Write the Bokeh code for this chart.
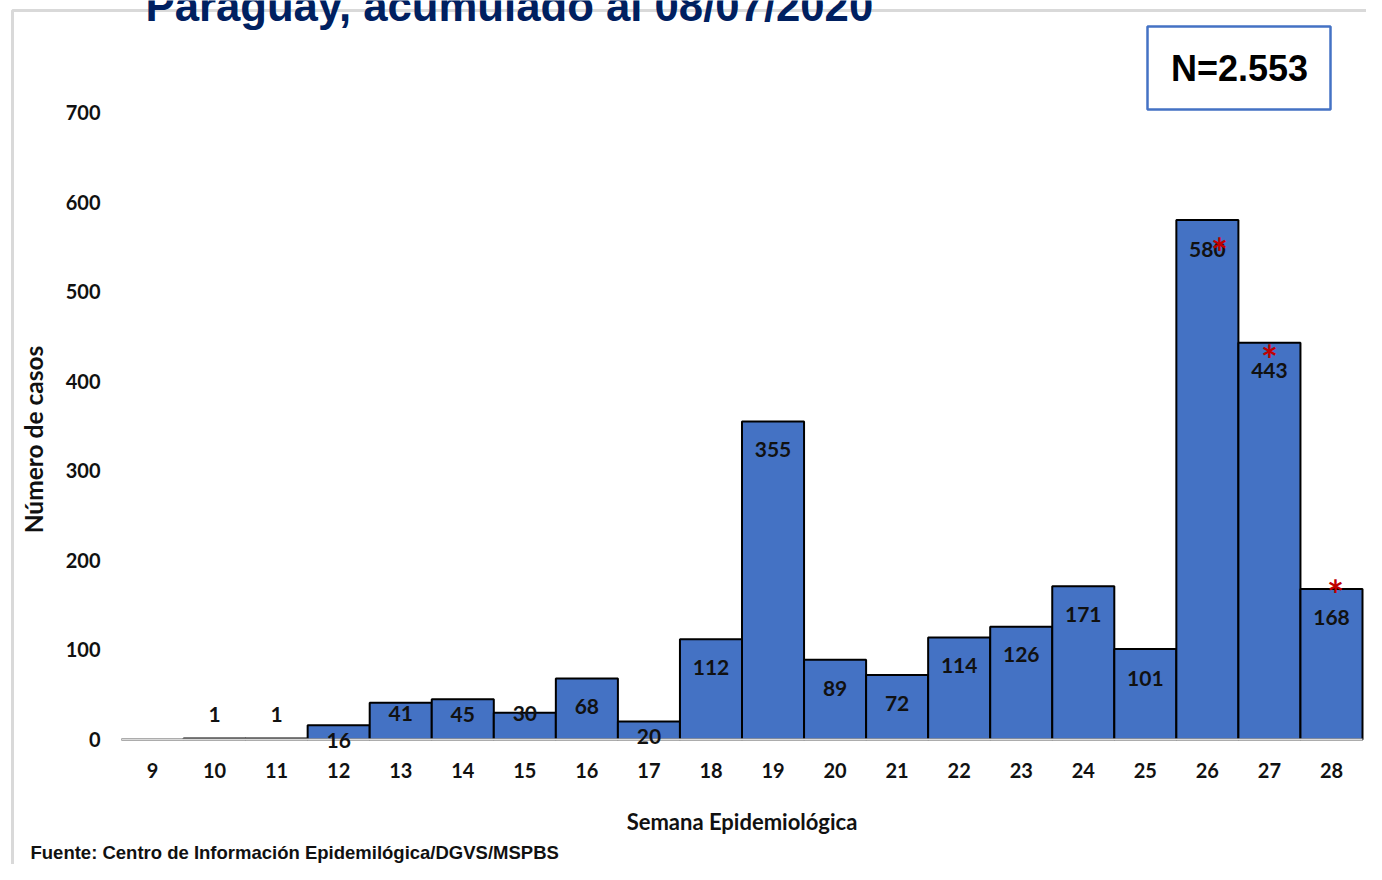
from bokeh.plotting import figure
from bokeh.models import ColumnDataSource, LabelSet, Label, BoxAnnotation, FixedTicker, Range1d
from bokeh.embed import file_html
from bokeh.resources import INLINE
from bokeh.core.properties import value

# ---------------- data ----------------
weeks = list(range(9, 29))
cases = [0, 1, 1, 16, 41, 45, 30, 68, 20, 112, 355, 89, 72, 114, 126, 171, 101, 580, 443, 168]
asterisk_weeks = [26, 27, 28]
y_ticks = [0, 100, 200, 300, 400, 500, 600, 700]
title_text = "Paraguay, acumulado al 08/07/2020"
n_text = "N=2.553"
x_label = "Semana Epidemiológica"
y_label = "Número de casos"
footer_text = "Fuente: Centro de Información Epidemilógica/DGVS/MSPBS"

# ---------------- styles ----------------
# value-label drop below bar top in px (negative = above the bar)
label_drop = [0, -24, -24, 15, 11, 15, 1, 28, 15, 28, 28, 29, 28, 28, 28, 28, 29, 30, 28, 28]
ast_dx = [12, 0, 4]
ast_drop = [27, 11, 0]
AST_FS = 40

FW, FH = 1366, 864
# pixel placement of the plotting area (x 8.5..28.5, y 0..700)
PX_L, PX_R = 121, 1362
PY_0, PY_700 = 739, 112
kx = (PX_R - PX_L) / 20.0
ky = (PY_0 - PY_700) / 700.0
XS = 8.5 - PX_L / kx
XE = 28.5 + (FW - PX_R) / kx
YS = -(FH - PY_0) / ky
YE = PY_0 / ky


def dx(sx):
    return XS + sx / kx


def dy(sy):
    return (PY_0 - sy) / ky


p = figure(width=FW, height=FH, output_backend="svg", toolbar_location=None, title=None,
           x_range=Range1d(XS, XE), y_range=Range1d(YS, YE),
           min_border=0, min_border_left=0, min_border_right=0,
           min_border_top=0, min_border_bottom=0)
p.outline_line_color = None
p.grid.visible = False
p.background_fill_color = "white"
p.border_fill_color = "white"

# outer light-gray frame
p.add_layout(BoxAnnotation(left=dx(12), right=dx(1600), top=dy(10), bottom=dy(1100),
                           fill_alpha=0, line_color="#d9d9d9", line_alpha=1, line_width=3))

src = ColumnDataSource(dict(
    week=weeks, cases=cases,
    lbl=[str(c) if c > 0 else "" for c in cases],
    yoff=[-d for d in label_drop],
))
p.vbar(x="week", top="cases", bottom=0, width=1.0, source=src,
       fill_color="#4472C4", line_color="black", line_width=2)

p.add_layout(LabelSet(x="week", y="cases", text="lbl", source=src, y_offset="yoff",
                      text_align="center", text_baseline="middle",
                      text_font=value("Lato"), text_font_style="bold",
                      text_font_size="21px", text_color="#111111"))

ast_cases = [cases[weeks.index(w)] for w in asterisk_weeks]
asrc = ColumnDataSource(dict(x=asterisk_weeks, y=ast_cases, t=["*"] * 3,
                             xo=ast_dx, yo=[-(d + 0.15 * AST_FS) for d in ast_drop]))
p.add_layout(LabelSet(x="x", y="y", text="t", source=asrc, x_offset="xo", y_offset="yo",
                      text_align="center", text_baseline="middle",
                      text_font=value("Lato"), text_font_style="bold",
                      text_font_size=f"{AST_FS}px", text_color="#C00000"))

# axes (fixed inside the canvas-wide frame)
xa = p.xaxis[0]
xa.fixed_location = 0
xa.bounds = (8.5, 28.5)
xa.ticker = FixedTicker(ticks=weeks)
xa.axis_line_color = "#d9d9d9"
xa.axis_line_width = 2
xa.major_tick_line_color = None
xa.minor_tick_line_color = None
xa.major_tick_out = 0
xa.major_tick_in = 0
xa.major_label_standoff = 23
xa.major_label_text_font = "Lato"
xa.major_label_text_font_style = "bold"
xa.major_label_text_font_size = "20px"
xa.major_label_text_color = "#111111"
xa.axis_label = x_label
xa.axis_label_standoff = 27
xa.axis_label_text_font = "Lato"
xa.axis_label_text_font_style = "bold"
xa.axis_label_text_font_size = "22px"
xa.axis_label_text_color = "#111111"

ya = p.yaxis[0]
ya.fixed_location = 8.5
ya.bounds = (-30, 700)
ya.ticker = FixedTicker(ticks=y_ticks)
ya.axis_line_color = None
ya.major_tick_line_color = None
ya.minor_tick_line_color = None
ya.major_tick_out = 0
ya.major_tick_in = 0
ya.major_label_standoff = 21
ya.major_label_text_font = "Lato"
ya.major_label_text_font_style = "bold"
ya.major_label_text_font_size = "20px"
ya.major_label_text_color = "#111111"
ya.axis_label = y_label
ya.axis_label_standoff = 15
ya.axis_label_text_font = "Lato"
ya.axis_label_text_font_style = "bold"
ya.axis_label_text_font_size = "24.5px"
ya.axis_label_text_color = "#111111"

# title (cut at the top edge, as in the reference)
p.add_layout(Label(x=dx(145), y=dy(5), text=title_text, text_align="left",
                   text_baseline="alphabetic", text_font="Liberation Sans",
                   text_font_style="bold", text_font_size="43.7px", text_color="#002060"))

# N box
p.add_layout(BoxAnnotation(left=dx(1147), right=dx(1330), top=dy(26), bottom=dy(109),
                           fill_color="white", fill_alpha=1, line_color="#4472C4",
                           line_alpha=1, line_width=2.5))
p.add_layout(Label(x=dx(1239), y=dy(68), text=n_text, text_align="center",
                   text_baseline="middle", text_font="Liberation Sans",
                   text_font_style="bold", text_font_size="36px", text_color="black"))

# footer
p.add_layout(Label(x=dx(30), y=dy(852), text=footer_text, text_align="left",
                   text_baseline="middle", text_font="Liberation Sans",
                   text_font_style="bold", text_font_size="18.5px", text_color="#111111"))

open("out.html", "w").write(file_html(p, INLINE))
